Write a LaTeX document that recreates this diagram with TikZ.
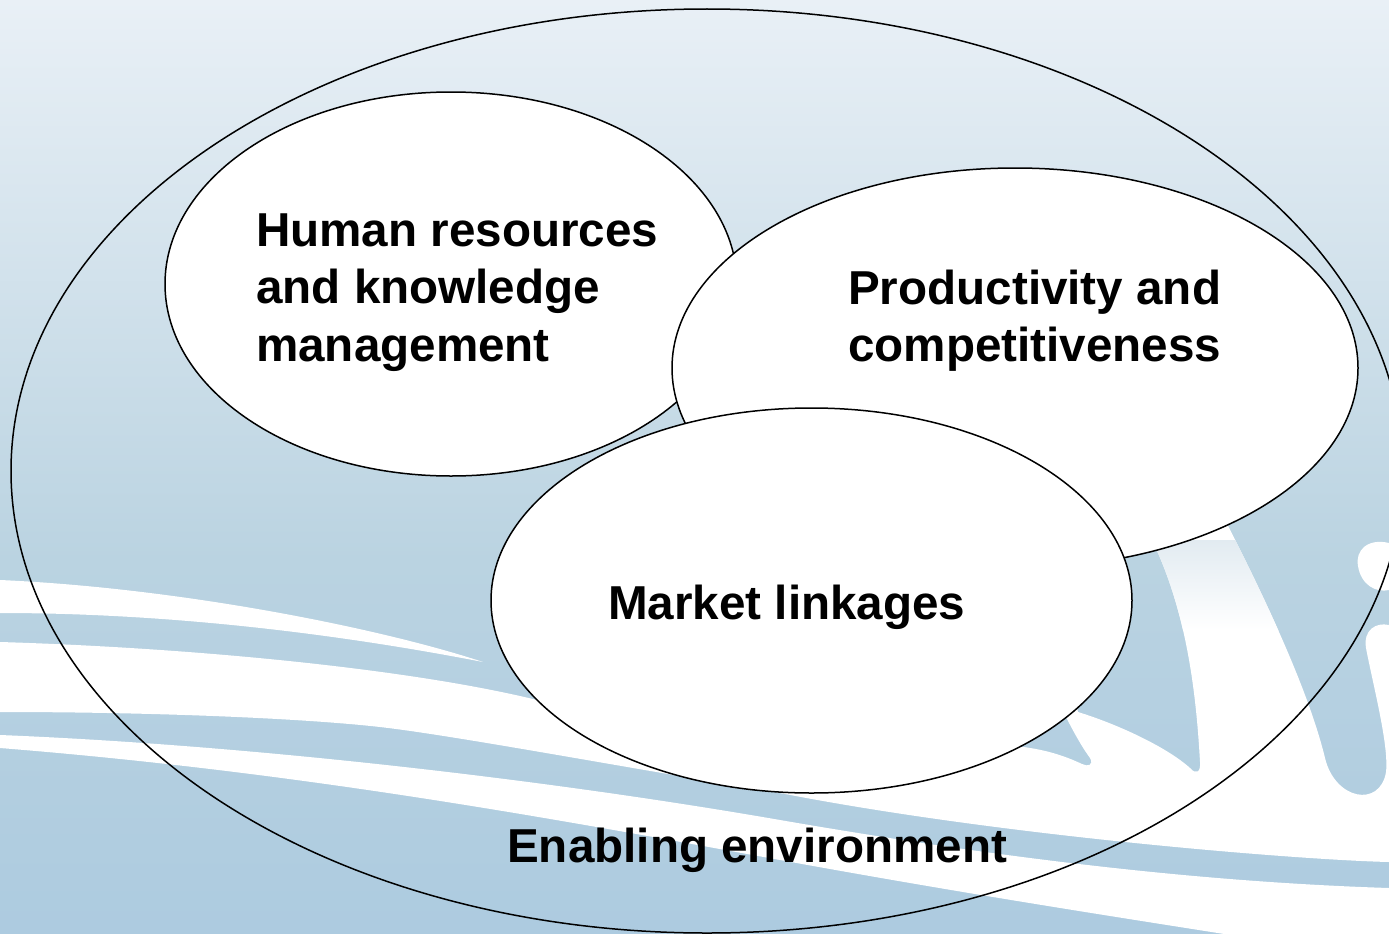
\documentclass[tikz,border=0pt]{standalone}
\usepackage{fontspec}
\setmainfont{Liberation Sans}
\usetikzlibrary{shapes.geometric}

\definecolor{bgtop}{RGB}{233,240,246}
\definecolor{bgmid}{RGB}{186,211,225}
\definecolor{bgbot}{RGB}{173,203,224}
\definecolor{strokefade}{RGB}{226,235,241}

% backdrop: light at the top, steel blue from the middle down
\pgfdeclareverticalshading{backdrop}{100bp}{color(0bp)=(bgbot); color(25bp)=(bgbot); color(45bp)=(bgmid); color(75bp)=(bgtop); color(100bp)=(bgtop)}

\tikzset{
  zone/.style={ellipse, draw=black, line width=1.5pt, fill=white, inner sep=0pt, outer sep=0pt},
  % multi-line captions sit on the baseline of their last line
  caption/.style={anchor=base west, inner sep=0pt, align=left,
                  font=\fontsize{47.6}{57.5}\selectfont\bfseries},
  swoosh/.style={fill=white, draw=none},
}

\begin{document}
\begin{tikzpicture}[x=1pt,y=-1pt]
\useasboundingbox (0,0) rectangle (1389,934);
\clip (0,0) rectangle (1389,934);
\shade[shading=backdrop] (0,0) rectangle (1389,934);

% watermark swooshes
\def\mainband{(0,642) .. controls (200,648) and (420,670) .. (545,702) -- (1075,700) -- (1078,712)
  .. controls (1120,725) and (1168,748) .. (1190,768) .. controls (1196,775) and (1201,772) .. (1200,762)
  .. controls (1196,690) and (1186,610) .. (1152,540) -- (1220,510)
  .. controls (1262,592) and (1308,688) .. (1325,758) .. controls (1335,800) and (1380,808) .. (1386,772)
  .. controls (1389,745) and (1373,685) .. (1366,648) .. controls (1363,630) and (1376,622) .. (1389,625)
  -- (1389,862) .. controls (1300,860) and (1000,836) .. (780,793)
  .. controls (600,763) and (450,735) .. (380,727) .. controls (300,718) and (150,712) .. (0,712) -- cycle}

\fill[swoosh] (0,580) .. controls (180,588) and (380,628) .. (483,662)
  .. controls (380,642) and (200,613) .. (0,613) -- cycle;
\fill[swoosh, even odd rule] \mainband
  (1015,740) -- (1065,715) .. controls (1075,735) and (1084,750) .. (1090,758)
  .. controls (1094,765) and (1088,767) .. (1082,764) .. controls (1065,756) and (1045,749) .. (1015,746) -- cycle;
\begin{scope}
  \clip \mainband;
  \shade[top color=strokefade, bottom color=white] (1140,540) rectangle (1300,630);
\end{scope}
\fill[swoosh] (0,735) .. controls (250,745) and (550,780) .. (780,820)
  .. controls (1000,858) and (1200,882) .. (1389,888) -- (1389,960)
  .. controls (1150,922) and (1000,900) .. (780,860) .. controls (550,818) and (300,772) .. (0,748) -- cycle;
\fill[swoosh] (1389,543) .. controls (1368,538) and (1355,550) .. (1358,566)
  .. controls (1361,585) and (1376,593) .. (1389,590) -- cycle;

% the enabling environment and the three areas inside it
\node[zone, fill=none, minimum width=1392pt, minimum height=924pt] (envring) at (707,471) {};
\node[zone, minimum width=572pt, minimum height=384pt] (hr) at (451,284) {};
\node[zone, minimum width=686pt, minimum height=400pt] (prod) at (1015,368) {};
\node[zone, minimum width=641pt, minimum height=385pt] (market) at (811.5,600.5) {};

\node[caption] (hrtext) at (256,361) {Human resources\\and knowledge\\management};
\node[caption] (prodtext) at (848,361.5) {Productivity and\\competitiveness};
\node[caption] (markettext) at (608,619) {Market linkages};
\node[caption] (envtext) at (507,862) {Enabling environment};
\end{tikzpicture}
\end{document}
